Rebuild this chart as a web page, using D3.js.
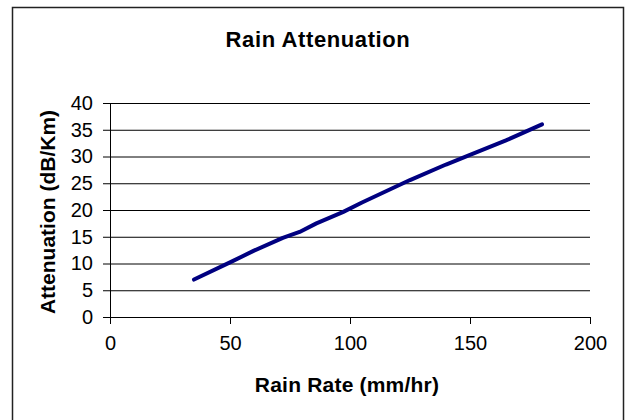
<!DOCTYPE html>
<html>
<head>
<meta charset="utf-8">
<script src="https://cdn.jsdelivr.net/npm/d3@7"></script>
<style>
  body { margin: 0; background: #fff; }
  text { font-family: "Liberation Sans", Arial, sans-serif; }
</style>
</head>
<body>
<div id="chart-area"></div>
<script>
// data
const rainRate = [35, 50, 60, 72, 79, 86, 97, 105, 125, 140, 150, 165, 180];
const attenuation = [7.0, 10.2, 12.4, 14.8, 15.9, 17.5, 19.6, 21.4, 25.6, 28.5, 30.3, 33.0, 36.0];
const xTicks = [0, 50, 100, 150, 200];
const yTicks = [0, 5, 10, 15, 20, 25, 30, 35, 40];

const data = rainRate.map((r, i) => ({ rate: r, att: attenuation[i] }));

const W = 626, H = 420;
const margin = { top: 103, right: 36, bottom: 103, left: 110 };
const width = W - margin.left - margin.right,
  height = H - margin.top - margin.bottom;

const svg = d3.select("#chart-area").append("svg")
  .attr("width", W)
  .attr("height", H);

// outer frame (bottom edge runs off the picture)
svg.append("rect")
  .attr("x", 12.5).attr("y", 7.5)
  .attr("width", 611).attr("height", 430)
  .attr("fill", "white")
  .attr("stroke", "#222")
  .attr("stroke-width", 1.5);

svg.append("text")
  .attr("x", 318).attr("y", 47)
  .attr("text-anchor", "middle")
  .style("font-weight", "bold")
  .style("font-size", "22px")
  .style("letter-spacing", "0.6px")
  .text("Rain Attenuation");

const g = svg.append("g")
  .attr("transform", `translate(${margin.left}, ${margin.top})`);

const x = d3.scaleLinear().domain([0, 200]).range([0, width]);
const y = d3.scaleLinear().domain([0, 40]).range([height, 0]);

// gridlines
g.append("g")
  .attr("class", "grid")
  .call(d3.axisLeft(y).tickValues(yTicks).tickSize(-width).tickFormat(""))
  .call(s => s.select(".domain").remove())
  .call(s => s.selectAll("line").attr("stroke", "#000"));

const yAxis = g.append("g")
  .call(d3.axisLeft(y).tickValues(yTicks).tickSize(7).tickPadding(10));
const xAxis = g.append("g")
  .attr("transform", `translate(0, ${height})`)
  .call(d3.axisBottom(x).tickValues(xTicks).tickSize(7).tickPadding(12));

[xAxis, yAxis].forEach(a => {
  a.selectAll("text")
    .style("font-size", "20px")
    .attr("fill", "#000");
  a.selectAll("line").attr("stroke", "#000");
  a.select(".domain").attr("stroke", "#000");
});

// the series
g.append("path")
  .datum(data)
  .attr("fill", "none")
  .attr("stroke", "#000080")
  .attr("stroke-width", 4)
  .attr("stroke-linecap", "round")
  .attr("stroke-linejoin", "round")
  .attr("d", d3.line().x(d => x(d.rate)).y(d => y(d.att)));

svg.append("text")
  .attr("x", 347).attr("y", 392)
  .attr("text-anchor", "middle")
  .style("font-weight", "bold")
  .style("font-size", "21px")
  .style("letter-spacing", "0.2px")
  .text("Rain Rate (mm/hr)");

svg.append("text")
  .attr("transform", "translate(55, 212) rotate(-90)")
  .attr("text-anchor", "middle")
  .style("font-weight", "bold")
  .style("font-size", "21px")
  .text("Attenuation (dB/Km)");
</script>
</body>
</html>
